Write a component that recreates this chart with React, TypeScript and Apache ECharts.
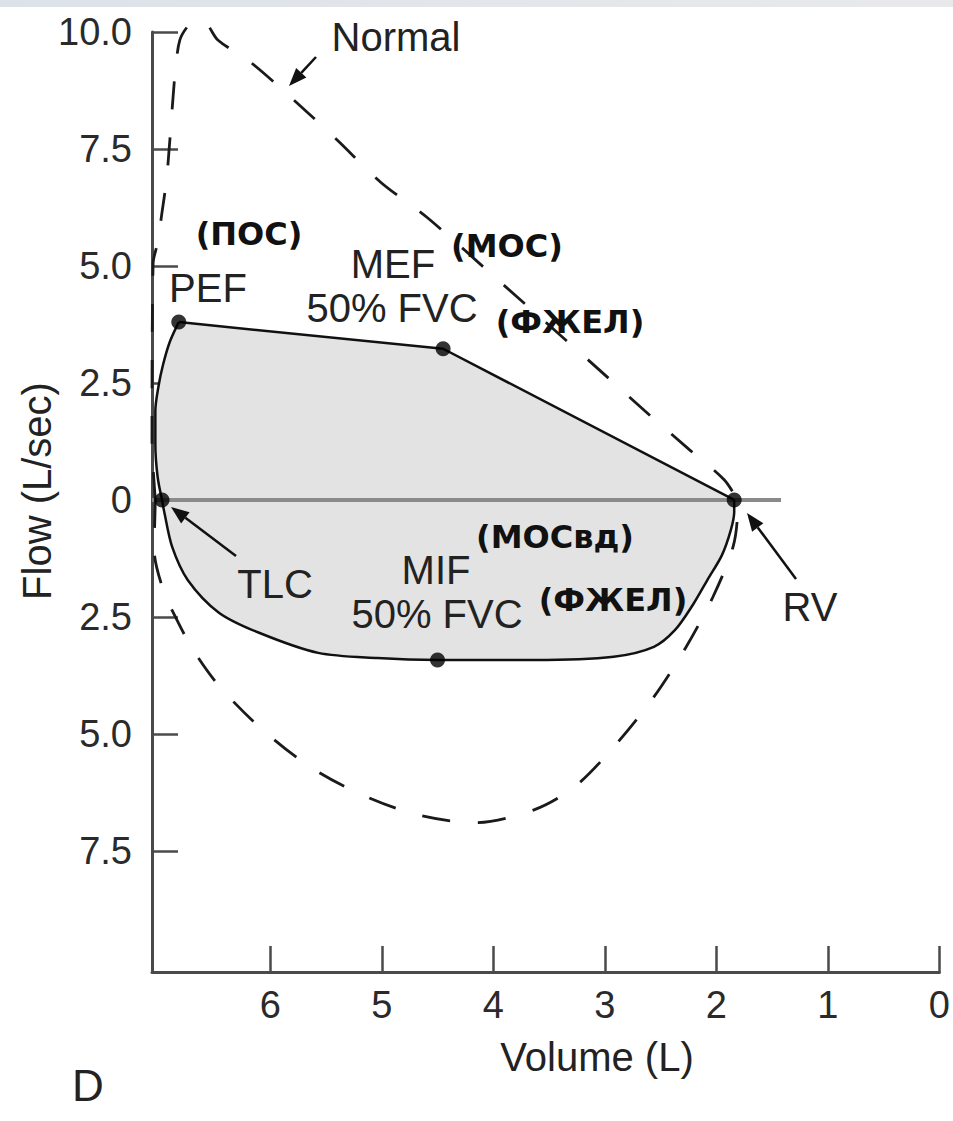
import React, { useEffect, useRef } from 'react';
import * as echarts from 'echarts';

// Axis ticks
const volumeTicks = [0, 1, 2, 3, 4, 5, 6];
const flowTickMarks = [-7.5, -5, -2.5, 2.5, 5, 7.5, 10];
const flowTickLabels = [-7.5, -5, -2.5, 0, 2.5, 5, 7.5, 10];

// Patient loop: [volume (L), flow (L/sec)]
const patientRiseToPEF = [
  [6.97, 0], [7.01, 0.5], [7.03, 1.2], [7.03, 1.9], [7.0, 2.45],
  [6.96, 2.9], [6.9, 3.38], [6.82, 3.8],
];
const patientExpiratoryLine = [[6.82, 3.8], [4.45, 3.23], [1.84, 0]];
const patientInspiratory = [
  [6.97, 0], [6.95, -0.26], [6.88, -1.0], [6.74, -1.71], [6.46, -2.41],
  [6.1, -2.84], [5.57, -3.27], [5.04, -3.38], [4.5, -3.42], [3.63, -3.42],
  [2.92, -3.35], [2.56, -3.14], [2.37, -2.78], [2.21, -2.24], [2.08, -1.71],
  [1.95, -1.18], [1.87, -0.64], [1.84, -0.26], [1.84, 0],
];

// Normal loop (dashed)
const normalExpiratory = [
  [7.03, 0], [7.06, 1.28], [7.05, 5.06], [7.01, 5.49], [6.97, 6.15],
  [6.93, 6.84], [6.9, 7.69], [6.88, 8.33], [6.85, 9.19], [6.81, 9.83],
  [6.73, 10.15], [6.66, 10.24], [6.57, 10.17], [6.47, 9.83], [6.18, 9.36],
  [5.79, 8.55], [5.4, 7.69], [5.01, 6.79], [4.59, 6.03], [3.92, 4.62],
  [3.13, 2.95], [2.64, 1.9], [2.24, 1.07], [1.93, 0.43], [1.81, 0],
];
const normalInspiratory = [
  [7.03, 0], [7.04, -1.07], [6.96, -1.92], [6.85, -2.5], [6.69, -3.21],
  [6.45, -4.0], [6.07, -4.91], [5.64, -5.71], [5.18, -6.3], [4.68, -6.73],
  [4.16, -6.9], [3.63, -6.62], [3.27, -6.13], [2.92, -5.28], [2.56, -4.21],
  [2.27, -3.14], [2.03, -2.07], [1.85, -1.0], [1.81, -0.21], [1.81, 0],
];

const keyPointNames = ['TLC', 'PEF', 'MEF', 'MIF', 'RV'];
const keyPointValues = [[6.97, 0], [6.82, 3.8], [4.45, 3.23], [4.5, -3.42], [1.84, 0]];
const zeroLine = [[7.06, 0], [1.42, 0]];

const LATIN = '"Liberation Sans", Arial, Helvetica, sans-serif';
const CYR = '"DejaVu Sans", "Liberation Sans", sans-serif';

function txt(text: string, x: number, y: number, size: number, bold = false, extra: any = {}) {
  return {
    type: 'text',
    x,
    y,
    z: 20,
    ...extra,
    style: {
      text,
      fontSize: size,
      fontFamily: bold ? CYR : LATIN,
      fontWeight: bold ? 'bold' : 'normal',
      fill: bold ? '#111' : '#222',
      align: 'center',
      verticalAlign: 'middle',
    },
  };
}

function arrow(tail: number[], tip: number[]) {
  const dx = tip[0] - tail[0];
  const dy = tip[1] - tail[1];
  const len = Math.hypot(dx, dy);
  const ux = dx / len, uy = dy / len;
  const hl = 18, hw = 7;
  const bx = tip[0] - ux * hl, by = tip[1] - uy * hl;
  const nx = -uy, ny = ux;
  return [
    {
      type: 'line', z: 20,
      shape: { x1: tail[0], y1: tail[1], x2: bx, y2: by },
      style: { stroke: '#111', lineWidth: 2.5 },
    },
    {
      type: 'polygon', z: 20,
      shape: { points: [[tip[0], tip[1]], [bx + nx * hw, by + ny * hw], [bx - nx * hw, by - ny * hw]] },
      style: { fill: '#111' },
    },
  ];
}

export default function App() {
  const ref = useRef<HTMLDivElement>(null);
  useEffect(() => {
    const chart = echarts.init(ref.current!, null, { renderer: 'svg' });
    const solid = { color: '#111', width: 2.5 };
    const dashed = { color: '#1a1a1a', width: 2.8, type: [28, 28] as any };
    chart.setOption({
      animation: false,
      backgroundColor: '#ffffff',
      grid: { left: 152, right: 13, top: 32, bottom: 149 },
      xAxis: {
        type: 'value',
        inverse: true,
        min: 0,
        max: 7.06,
        splitLine: { show: false },
        axisLine: { onZero: false, lineStyle: { color: '#4a4a4a', width: 3 } },
        axisTick: { inside: true, length: 26, customValues: volumeTicks, lineStyle: { color: '#4a4a4a', width: 2.5 } },
        axisLabel: {
          customValues: volumeTicks,
          margin: 14,
          fontSize: 38,
          fontFamily: LATIN,
          color: '#2a2a2a',
        },
      },
      yAxis: {
        type: 'value',
        min: -10.09,
        max: 10,
        splitLine: { show: false },
        axisLine: { onZero: false, lineStyle: { color: '#4a4a4a', width: 3 } },
        axisTick: { inside: true, length: 26, customValues: flowTickMarks, lineStyle: { color: '#4a4a4a', width: 2.5 } },
        axisLabel: {
          customValues: flowTickLabels,
          margin: 20,
          fontSize: 38,
          fontFamily: LATIN,
          color: '#2a2a2a',
          formatter: (v: number) => (v === 0 ? '0' : Math.abs(v).toFixed(1)),
        },
      },
      series: [
        {
          type: 'line', data: patientRiseToPEF.concat(patientExpiratoryLine.slice(1)),
          showSymbol: false, silent: true, z: 1,
          lineStyle: { width: 0, opacity: 0 },
          areaStyle: { color: '#e3e3e3', opacity: 1, origin: 0 },
        },
        {
          type: 'line', data: patientInspiratory, smooth: 0.3,
          showSymbol: false, silent: true, z: 1,
          lineStyle: { width: 0, opacity: 0 },
          areaStyle: { color: '#e3e3e3', opacity: 1, origin: 0 },
        },
        {
          type: 'line', data: zeroLine, showSymbol: false, silent: true, z: 2,
          lineStyle: { color: '#8a8a8a', width: 4 },
        },
        { type: 'line', data: patientRiseToPEF, smooth: 0.3, showSymbol: false, z: 3, lineStyle: solid },
        { type: 'line', data: patientExpiratoryLine, showSymbol: false, z: 3, lineStyle: solid },
        { type: 'line', data: patientInspiratory, smooth: 0.3, showSymbol: false, z: 3, lineStyle: solid },
        { type: 'line', data: normalExpiratory, smooth: 0.3, clip: false, showSymbol: false, z: 3, lineStyle: dashed },
        { type: 'line', data: normalInspiratory, smooth: 0.3, clip: false, showSymbol: false, z: 3, lineStyle: dashed },
        {
          type: 'scatter', z: 5, symbolSize: 15,
          itemStyle: { color: '#000' },
          data: keyPointValues.map((v, i) => ({ name: keyPointNames[i], value: v })),
        },
      ],
      graphic: [
        {
          type: 'rect', z: 0, shape: { x: 0, y: 0, width: 953, height: 7 },
          style: {
            fill: new echarts.graphic.LinearGradient(0, 0, 1, 0, [
              { offset: 0, color: '#dce2ea' },
              { offset: 1, color: '#e9e9ea' },
            ]),
          },
        },
        txt('Normal', 396, 37, 40),
        txt('(ПОС)', 249, 234, 32, true),
        txt('PEF', 208, 288, 40),
        txt('MEF', 393, 264, 40),
        txt('50% FVC', 392, 308, 40),
        txt('(МОС)', 507, 246, 32, true),
        txt('(ФЖЕЛ)', 570, 322, 32, true),
        txt('(МОСвд)', 555, 537, 32, true),
        txt('MIF', 436, 570, 40),
        txt('50% FVC', 437, 614, 40),
        txt('(ФЖЕЛ)', 613, 600, 32, true),
        txt('TLC', 275, 584, 40),
        txt('RV', 810, 607, 40),
        txt('Volume (L)', 597, 1057, 40),
        txt('Flow (L/sec)', 37, 491, 40, false, { rotation: Math.PI / 2 }),
        txt('D', 88, 1085, 44),
        ...arrow([316, 57], [289, 86]),
        ...arrow([236, 556], [171, 507]),
        ...arrow([796, 579], [747, 513]),
      ],
    });
    return () => chart.dispose();
  }, []);
  return (
    <div
      ref={ref}
      style={{ position: 'fixed', left: 0, top: 0, width: 953, height: 1121, background: '#fff' }}
    />
  );
}
